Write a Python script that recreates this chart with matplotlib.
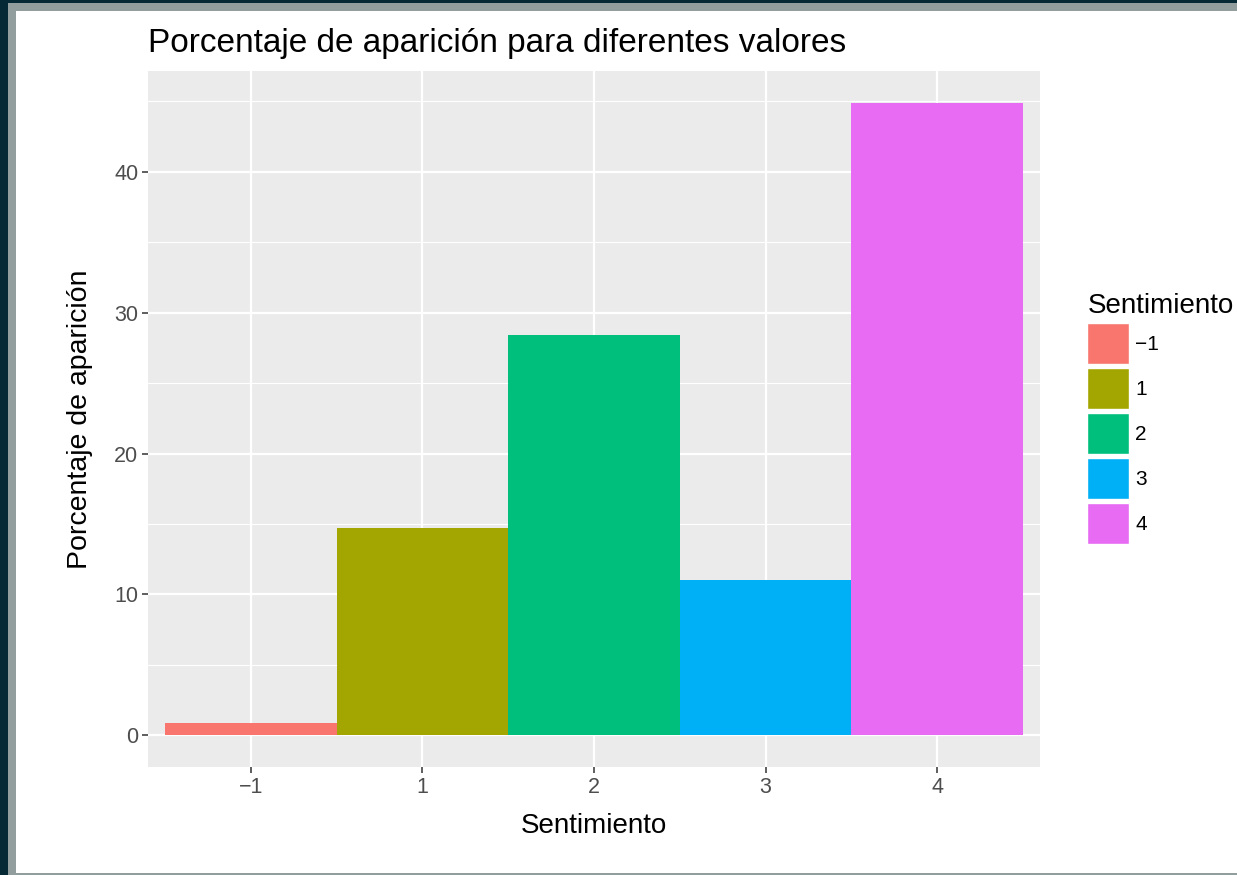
import matplotlib
matplotlib.use('Agg')
import matplotlib.pyplot as plt
from matplotlib.patches import Patch, Rectangle

plt.rcParams['font.family'] = ['Liberation Sans', 'DejaVu Sans']

# data
sentimiento = ['\u22121', '1', '2', '3', '4']
porcentaje = [0.9, 14.7, 28.4, 11.0, 44.9]
colores = ['#F8766D', '#A3A500', '#00BF7D', '#00B0F6', '#E76BF3']
y_major = [0, 10, 20, 30, 40]
y_minor = [5, 15, 25, 35, 45]

W, H = 1237, 875
fig = plt.figure(figsize=(W / 100, H / 100), dpi=100)
fig.patch.set_facecolor('#062a35')
# screenshot frame: grey border then white page
fig.patches.append(Rectangle((8 / W, 0), 1, (H - 3) / H, transform=fig.transFigure,
                             facecolor='#929e9e', edgecolor='none', zorder=-3))
fig.patches.append(Rectangle((16 / W, 2 / H), 1, (H - 13) / H, transform=fig.transFigure,
                             facecolor='white', edgecolor='none', zorder=-2))

ax = fig.add_axes([148 / W, 1 - 767 / H, (1040 - 148) / W, (767 - 71) / H])
ax.set_facecolor('#EBEBEB')

pos = list(range(len(sentimiento)))
ax.bar(pos, porcentaje, width=1.0, color=colores, zorder=3)

ax.set_xlim(-0.6, len(pos) - 0.4)
ax.set_ylim(-0.05 * max(porcentaje), 1.05 * max(porcentaje))
ax.set_xticks(pos)
ax.set_xticklabels(sentimiento)
ax.set_yticks(y_major)
ax.set_yticks(y_minor, minor=True)

ax.grid(which='major', color='white', linewidth=1.6, zorder=1)
ax.grid(which='minor', axis='y', color='white', linewidth=0.8, zorder=1)
ax.tick_params(which='major', length=4, width=1.1, color='#333333',
               labelcolor='#4d4d4d', labelsize=15.5, pad=3)
ax.tick_params(which='minor', length=0)
for s in ax.spines.values():
    s.set_visible(False)

ax.set_xlabel('Sentimiento', fontsize=20, labelpad=11)
ax.set_ylabel('Porcentaje de aparición', fontsize=20.5, labelpad=15)
ax.set_title('Porcentaje de aparición para diferentes valores', fontsize=24,
             loc='left', pad=14)

handles = [Patch(facecolor=c, edgecolor='white', linewidth=1) for c in colores]
leg = fig.legend(handles, sentimiento, title='Sentimiento', loc='upper left',
                 bbox_to_anchor=(1079 / W, 1 - 285 / H), frameon=False,
                 fontsize=15, title_fontsize=20, handlelength=2.0, handleheight=2.7,
                 labelspacing=0.16, handletextpad=0.3, borderaxespad=0)
leg._legend_box.align = 'left'

fig.savefig('out.png', dpi=100, facecolor=fig.get_facecolor())
